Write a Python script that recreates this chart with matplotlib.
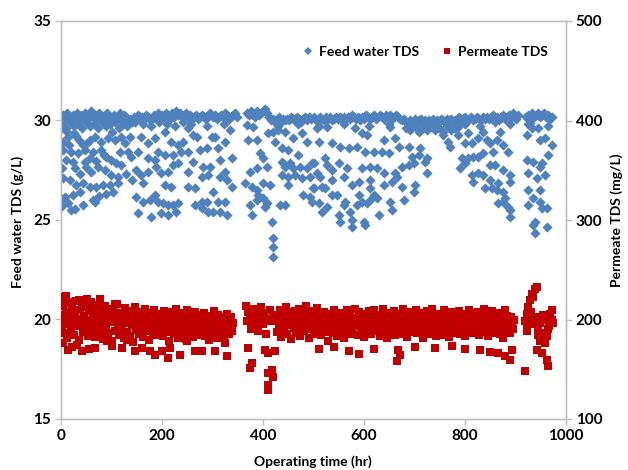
import matplotlib
matplotlib.use('Agg')
import matplotlib.pyplot as plt
from matplotlib.lines import Line2D
import numpy as np

# ---------------- data ----------------
# Feed water TDS (g/L): dense upper band (operating time in hr)
feed_band_t = [0,4,8,12,16,20,24,28,32,36,40,44,48,52,56,60,64,68,72,76,
               80,84,88,92,96,100,104,108,112,116,120,124,128,132,136,140,144,148,152,156,
               160,164,168,172,176,180,184,188,192,196,200,204,208,212,216,220,224,228,232,236,
               240,244,248,252,256,260,264,268,272,276,280,284,288,292,296,300,304,308,312,316,
               320,324,328,332,336,340,344,348,
               368,372,376,380,384,388,392,396,400,404,408,412,416,420,424,428,432,436,440,444,
               448,452,456,460,464,468,472,476,480,484,488,492,496,500,504,508,512,516,520,524,
               528,532,536,540,544,548,552,556,560,564,568,572,576,580,584,588,592,596,600,604,
               608,612,616,620,624,628,632,636,640,644,648,652,656,660,664,668,672,676,680,684,
               688,692,696,700,704,708,712,716,720,724,728,732,736,740,744,748,752,756,760,764,
               768,772,776,780,784,788,792,796,800,804,808,812,816,820,824,828,832,836,840,844,
               848,852,856,860,864,868,872,876,880,884,888,892,896,900,904,
               920,924,928,932,936,940,944,948,952,956,960,964,968,972]
feed_band_v = [30.2,30.3,30.1,30.4,30.2,30.0,30.3,30.2,30.4,30.1,
               30.3,30.2,30.4,30.0,30.3,30.5,30.2,30.3,30.1,30.4,
               30.2,30.0,30.3,30.4,30.1,30.2,30.3,30.0,30.2,30.4,
               30.1,30.3,30.2,30.0,30.1,29.9,30.2,30.1,30.3,30.0,
               30.2,30.1,30.3,30.2,30.0,30.1,30.3,30.2,30.4,30.1,
               30.3,30.2,30.4,30.3,30.1,30.4,30.2,30.5,30.3,30.4,
               30.2,30.3,30.4,30.2,30.3,30.1,30.2,30.3,30.1,30.2,
               30.3,30.2,30.1,30.3,30.4,30.2,30.3,30.1,30.2,30.3,
               30.2,30.4,30.3,30.1,30.2,30.3,30.4,30.2,
               30.4,30.3,30.5,30.4,30.2,30.5,30.3,30.4,30.5,30.6,
               30.4,30.2,30.0,30.1,29.9,30.0,30.2,29.9,30.1,30.0,
               30.1,30.0,30.2,30.1,30.0,30.2,30.1,29.9,30.1,30.2,
               30.0,30.2,30.1,30.2,30.0,30.1,30.2,30.1,30.0,30.2,
               30.1,30.2,30.0,30.1,30.2,30.1,30.2,30.0,30.2,30.1,
               30.2,30.1,30.3,30.2,30.1,30.2,30.0,30.2,30.1,30.3,
               30.2,30.1,30.2,30.3,30.1,30.2,30.3,30.2,30.1,30.3,
               30.2,30.3,30.1,30.2,30.3,30.2,30.1,30.0,30.1,29.9,
               29.8,30.0,29.9,30.1,29.8,30.0,30.1,29.9,30.0,29.8,
               30.0,29.9,30.1,29.8,30.0,29.9,30.1,30.0,29.9,30.1,
               30.0,30.1,29.9,30.0,30.1,30.2,30.0,30.1,30.2,30.0,
               30.1,30.2,30.0,30.1,30.2,30.1,30.0,30.2,30.1,30.2,
               30.1,30.2,30.3,30.1,30.2,30.0,30.2,30.3,30.1,30.2,
               30.3,30.2,30.4,30.1,30.3,
               30.2,30.3,30.1,30.4,30.2,30.3,30.4,30.2,30.3,30.4,30.2,30.3,30.1,30.2]

# Feed water TDS: thinner band just below the main band
feed_sub_t = [2,10,18,26,34,42,50,58,66,74,82,90,98,106,114,122,130,146,162,178,
              194,210,226,242,258,290,322,
              430,470,510,560,610,650,
              684,692,700,708,716,724,732,740,748,756,764,772,780,788,
              800,830,860,890,924,944,964]
feed_sub_v = [29.8,29.6,29.9,29.7,29.8,29.6,29.9,29.7,29.8,29.6,29.9,29.7,29.8,29.9,29.6,29.8,29.7,29.9,29.8,29.7,
              29.9,29.8,29.7,29.9,29.8,29.7,29.8,
              29.7,29.8,29.7,29.8,29.7,29.8,
              29.6,29.5,29.7,29.4,29.6,29.5,29.7,29.5,29.6,29.4,29.7,29.5,29.6,29.7,
              29.8,29.7,29.9,29.8,29.8,29.6,29.7]

# Feed water TDS: scattered lower readings (hr, g/L)
feed_low = [(7,29.61),(14,29.19),(4,28.52),(20.5,28.43),(10.6,28.02),(23.8,27.93),(33.7,28.35),(43.6,28.77),
            (56.8,29.02),(66.7,29.19),(79.9,28.94),(93.1,29.10),(106.3,29.02),(119.5,29.19),(126.1,28.85),
            (132.7,28.43),(139.3,28.18),(79.9,28.52),(89.8,28.18),(99.7,28.02),(109.6,27.85),(119.5,27.77),
            (56.8,28.10),(50.2,27.68),(60.1,27.43),(73.3,27.68),(86.5,27.51),(99.7,27.26),(112.9,27.18),
            (4,27.09),(17.2,27.01),(30.4,26.76),(43.6,26.84),(56.8,26.68),(70,26.68),(83.2,26.76),(96.4,26.76),
            (112.9,26.84),(7.3,26.17),(13.9,25.84),(20.5,25.50),(37,26.43),(43.6,25.76),(66.7,25.92),(23.8,26.26),
            (149.2,27.51),(159.1,27.26),(172.3,27.43),(188.8,27.68),(198.7,27.35),(211.9,27.43),(221.8,27.77),
            (231.7,27.85),(162.4,26.84),(205.3,26.76),(218.5,26.68),(149.2,26.17),(162.4,25.92),(175.6,26.01),
            (185.5,26.26),(192.1,25.92),(202,25.84),(211.9,25.76),(221.8,25.76),(231.7,25.84),(152.5,25.34),
            (178.9,25.17),(198.7,25.34),(211.9,25.25),(228.4,25.42),(159.1,29.19),(172.3,28.85),(185.5,29.10),
            (205.3,29.44),(218.5,28.94),(231.7,28.77),(192.1,28.43),(205.3,28.27),(221.8,28.27),(238.3,28.43),
            (241.6,28.94),(136,29.19),(152.5,28.43),(172.3,28.10),(185.5,28.02),
            (10,29.45),(25,29.35),(35,29.0),(47,28.5),(52,28.85),(16,28.75),(28,27.6),(38,27.3),(48,27.9),
            (63,28.4),(70,27.95),(85,28.25),(90,26.3),(64,26.0),(1,26.05),(2,25.7),(27,25.55),(75,26.2),
            (103,26.4),(116,28.4),(128,27.3),(141,27.0),(30,29.2),(100,29.4),(2,27.6),(3,28.9),
            (252.1,29.61),(262,29.27),(268.6,29.19),(298.3,29.19),(304.9,29.19),(324.7,28.94),(334.6,29.52),
            (252.1,28.43),(275.2,28.52),(288.4,28.60),(311.5,28.60),(337.9,28.10),(262,27.93),(281.8,27.68),
            (295,27.68),(314.8,28.02),(252.1,27.43),(278.5,27.18),(291.7,27.26),(314.8,27.18),(324.7,27.43),
            (328,27.01),(337.9,26.68),(252.1,26.68),(265.3,26.59),(301.6,26.39),(265.3,25.76),(278.5,25.59),
            (288.4,25.92),(291.7,25.42),(301.6,25.42),(311.5,25.92),(314.8,25.42),(324.7,25.92),(328,25.25),
            (278.5,25.92),(367.6,29.77),(380.8,29.69),(370.9,29.02),(387.4,29.02),(394,28.35),(400.6,28.10),
            (407.2,27.68),(387.4,27.60),(374.2,27.43),(364.3,26.84),(377.5,26.68),(387.4,26.51),(400.6,26.84),
            (413.8,26.76),(390.7,26.26),(400.6,26.09),(407.2,25.84),(403.9,25.67),(374.2,25.76),(377.5,25.25),
            (387.4,26.01),(417.1,24.92),(420.4,24.08),(420.4,23.66),(420.4,23.16),(410.5,29.36),(420.4,29.44),
            (430.3,29.52),(443.5,29.44),(423.7,28.94),(436.9,28.60),(450.1,28.52),(460,29.10),(476.5,29.36),
            (486.4,28.94),(469.9,28.27),(436.9,27.93),(443.5,27.68),(453.4,27.85),(460,27.60),(473.2,27.68),
            (486.4,27.60),(496.3,27.85),(436.9,27.26),(450.1,27.18),(463.3,27.26),(476.5,27.09),(493,27.18),
            (450.1,26.76),(479.8,26.26),(493,26.17),(499.6,26.59),(433.6,25.76),(443.5,25.76),
            (506.9,29.61),(510.2,28.94),(526.7,29.69),(536.6,28.85),(553.1,28.69),(569.6,28.60),(582.8,29.61),
            (596,29.36),(605.9,29.27),(586.1,28.69),(602.6,28.43),(619.1,28.43),(635.6,28.43),(648.8,28.35),
            (638.9,29.02),(652.1,29.69),(662,29.10),(668.6,28.69),(688.4,28.69),(711.5,28.60),(724.7,28.10),
            (695,28.18),(708.2,28.27),(675.2,27.68),(688.4,27.77),(698.3,27.85),(721.4,27.93),(724.7,27.35),
            (662,27.35),(665.3,27.18),(523.4,28.10),(500.3,27.85),(526.7,27.77),(549.8,27.85),(566.3,27.60),
            (596,27.60),(612.5,27.68),(625.7,27.60),(638.9,27.35),(506.9,27.35),(513.5,27.18),(536.6,27.51),
            (559.7,27.18),(536.6,27.01),(576.2,26.76),(589.4,26.93),(612.5,27.01),(612.5,26.59),(638.9,26.76),
            (655.4,26.93),(675.2,26.68),(701.6,26.76),(698.3,26.43),(678.5,26.01),(500.3,26.59),(516.8,26.68),
            (523.4,26.59),(536.6,26.26),(546.5,26.26),(563,25.92),(589.4,26.26),(596,25.92),(605.9,25.84),
            (619.1,26.26),(625.7,26.09),(652.1,25.92),(655.4,25.50),(497,25.92),(510.2,25.84),(516.8,25.42),
            (526.7,25.67),(549.8,25.25),(553.1,24.92),(559.7,25.76),(572.9,25.42),(576.2,25.00),(576.2,24.67),
            (586.1,25.76),(599.3,24.92),(602.6,24.75),(629,25.25),(615.8,26.09),
            (757,29.27),(766.9,28.94),(770.2,28.69),(786.7,29.27),(799.9,28.85),(813.1,28.85),(806.5,29.36),
            (836.2,29.44),(826.3,29.10),(842.8,29.02),(849.4,28.85),(862.6,29.02),(869.2,29.44),(875.8,28.77),
            (885.7,28.43),(856,28.43),(836.2,28.35),(826.3,28.18),(816.4,28.18),(806.5,28.10),(793.3,28.10),
            (790,27.60),(799.9,27.85),(849.4,27.77),(859.3,27.77),(875.8,27.51),(813.1,27.26),(826.3,27.35),
            (836.2,27.26),(816.4,26.93),(849.4,27.01),(865.9,26.84),(889,27.26),(889,26.93),(839.5,26.59),
            (852.7,26.59),(862.6,26.51),(875.8,26.43),(879.1,26.09),(875.8,25.92),(865.9,25.84),(885.7,25.67),
            (889,25.50),(889,25.17),(922,29.27),(928.6,29.86),(931.9,29.61),(948.4,29.02),(958.3,29.10),
            (971.5,28.77),(964.9,28.27),(922,28.02),(935.2,27.93),(948.4,27.68),(951.7,27.85),(925.3,27.35),
            (941.8,27.09),(958.3,27.26),(925.3,26.51),(948.4,26.51),(935.2,26.09),(948.4,25.92),(925.3,25.76),
            (951.7,25.59),(961.6,25.59),(938.5,24.92),(935.2,24.75),(961.6,24.67),(938.5,24.33)]

# Permeate TDS (mg/L): main band, first run (0-340 hr)
perm_band1_t = [0,2,4,6,8,10,12,14,16,18,20,22,24,26,28,30,32,34,36,38,
                40,42,44,46,48,50,52,54,56,58,60,62,64,66,68,70,72,74,76,78,
                80,82,84,86,88,90,92,94,96,98,100,102,104,106,108,110,112,114,116,118,
                120,122,124,126,128,130,132,134,136,138,140,142,144,146,148,150,152,154,156,158,
                160,162,164,166,168,170,172,174,176,178,180,182,184,186,188,190,192,194,196,198,
                200,202,204,206,208,210,212,214,216,218,220,222,224,226,228,230,232,234,236,238,
                240,242,244,246,248,250,252,254,256,258,260,262,264,266,268,270,272,274,276,278,
                280,282,284,286,288,290,292,294,296,298,300,302,304,306,308,310,312,314,316,318,
                320,322,324,326,328,330,332,334,336,338,340]
perm_band1_v = [205,192,214,186,199,208,181,217,195,203,188,211,198,184,207,219,193,201,179,210,
                196,213,187,204,191,216,200,183,209,194,218,189,206,197,182,212,202,190,215,185,
                208,195,180,203,214,192,199,186,211,205,178,197,209,188,201,216,193,184,207,198,
                190,204,181,212,196,187,209,200,183,206,194,177,202,213,189,197,208,185,199,192,
                205,182,198,211,188,195,203,179,207,191,200,186,210,196,184,204,193,201,188,206,
                197,183,209,192,200,187,205,178,196,208,190,203,185,199,211,194,181,202,189,207,
                195,186,204,198,180,210,191,201,187,206,193,182,199,208,188,203,196,184,205,192,
                200,189,207,183,197,204,190,179,202,195,186,209,193,199,181,205,191,198,187,203,
                194,182,201,189,206,192,185,199,203,188,196]

# Permeate TDS: main band, second run (426-898 hr)
perm_band2_t = [426,428,430,432,434,436,438,440,442,444,446,448,450,452,454,456,458,460,462,464,
                466,468,470,472,474,476,478,480,482,484,486,488,490,492,494,496,498,500,502,504,
                506,508,510,512,514,516,518,520,522,524,526,528,530,532,534,536,538,540,542,544,
                546,548,550,552,554,556,558,560,562,564,566,568,570,572,574,576,578,580,582,584,
                586,588,590,592,594,596,598,600,602,604,606,608,610,612,614,616,618,620,622,624,
                626,628,630,632,634,636,638,640,642,644,646,648,650,652,654,656,658,660,662,664,
                666,668,670,672,674,676,678,680,682,684,686,688,690,692,694,696,698,700,702,704,
                706,708,710,712,714,716,718,720,722,724,726,728,730,732,734,736,738,740,742,744,
                746,748,750,752,754,756,758,760,762,764,766,768,770,772,774,776,778,780,782,784,
                786,788,790,792,794,796,798,800,802,804,806,808,810,812,814,816,818,820,822,824,
                826,828,830,832,834,836,838,840,842,844,846,848,850,852,854,856,858,860,862,864,
                866,868,870,872,874,876,878,880,882,884,886,888,890,892,894,896,898]
perm_band2_v = [198,187,205,193,210,182,199,206,189,196,213,185,201,194,208,180,197,204,191,209,
                186,200,195,211,183,203,192,207,188,198,214,190,202,181,196,209,193,185,205,199,
                212,189,197,204,184,201,193,208,187,200,195,178,206,191,203,197,186,210,194,199,
                183,205,192,201,188,207,196,181,203,194,210,187,199,206,190,185,202,197,211,193,
                200,184,208,195,189,203,198,182,206,192,200,187,209,194,185,201,196,210,190,204,
                188,197,205,183,200,193,211,189,196,204,181,199,207,192,186,203,195,209,184,201,
                197,190,206,185,202,195,211,188,199,205,182,196,208,191,203,187,200,194,210,186,
                204,193,199,188,207,181,197,202,190,209,195,185,203,198,211,189,196,205,183,200,
                192,206,187,199,203,184,210,194,198,189,205,182,201,196,208,190,193,204,186,200,
                197,209,185,202,191,206,198,183,204,195,188,210,193,200,186,207,196,189,203,192,
                208,184,199,205,190,197,211,187,201,194,183,206,198,192,209,186,200,195,188,204,
                193,207,185,199,202,181,196,210,189,204,192,198,186,203,195,190,200]

# Permeate TDS: readings outside the main band (hr, mg/L)
perm_other = [(4.6,176),(14.5,169),(40.9,168),(67.3,171),(31,174),(90.4,178),(130,179),(146.5,168),
              (159.7,171),(176.2,168),(186.1,164),(199.3,168),(212.5,161),(235.6,164),(215.8,171),
              (265.3,168),(278.5,168),(304.9,168),(328,163),(324.7,176),(248.8,178),(120,171),(100,173),
              (55,170),(22,172),
              (1,223),(0.5,219),(50.8,221),(77.2,221),(106.9,216),(20,218),(35,220),(60,217),(9,224),
              (366,214),(370,208),(374,202),(380,211),(386,205),(392,199),(396,213),(402,207),(408,201),
              (414,210),(420,204),(368,198),(384,196),(400,195),(416,198),(376,190),(390,188),(406,185),
              (370.9,171),(377.5,156),(374.2,151),(403.9,169),(410.5,166),(423.7,168),(417.1,149),
              (410.5,146),(420.4,142),(410.5,134),(410.5,129),
              (667.9,169),(671.2,164),(664.6,158),(773.5,173),(865.9,166),(889,159),(892.3,169),
              (570,168),(590,165),(510,170),(540,172),(620,170),(700,172),(740,171),(800,170),(830,169),
              (850,167),(880,163),(918.7,148),
              (922,196),(925.3,213),(928.6,220),(931.9,226),(935.2,223),(938.5,231),(941.8,233),
              (918.7,198),(922,206),(938.5,203),(948.4,196),(958.3,200),(968.2,206),(971.5,200),
              (951.7,186),(961.6,183),(964.9,190),(948.4,178),(941.8,169),(951.7,166),(961.6,159),
              (964.9,153),(922,188),(935.2,195),(926,200),(930,208),(945,190),(955,205),(966,193),
              (972,210),(975,196),(958,176),(944,184)]

x_ticks = [0, 200, 400, 600, 800, 1000]
left_ticks = [15, 20, 25, 30, 35]
right_ticks = [100, 200, 300, 400, 500]

# ---------------- plot ----------------
plt.rcParams['font.family'] = ['Lato', 'DejaVu Sans']
plt.rcParams['font.weight'] = 'bold'

BLUE = '#4F81BD'
RED = '#C00000'
GRAY = '#BFBFBF'

feed_t = feed_band_t + feed_sub_t + [p[0] for p in feed_low]
feed_v = feed_band_v + feed_sub_v + [p[1] for p in feed_low]
perm_t = perm_band1_t + perm_band2_t + [p[0] for p in perm_other]
perm_v = perm_band1_v + perm_band2_v + [p[1] for p in perm_other]

fig = plt.figure(figsize=(6.28, 4.70), dpi=100)
ax = fig.add_axes([61/628, 51/470, 505/628, 398/470])
ax2 = ax.twinx()

ax.scatter(feed_t, feed_v, marker='D', s=27, color=BLUE, linewidths=0, zorder=3)
ax2.scatter(perm_t, perm_v, marker='s', s=28, color=RED, linewidths=0, zorder=3)

ax.set_xlim(0, 1000)
ax.set_ylim(15, 35)
ax2.set_ylim(100, 500)
ax.set_xticks(x_ticks)
ax.set_yticks(left_ticks)
ax2.set_yticks(right_ticks)

for a in (ax, ax2):
    for sp in a.spines.values():
        sp.set_color(GRAY)
        sp.set_linewidth(1.0)
    a.tick_params(direction='out', length=4, width=1, color=GRAY, labelsize=11, labelcolor='black', pad=3)

fig.text(18/628, 1 - 222/470, 'Feed water TDS (g/L)', rotation=90, ha='center', va='center', fontsize=10)
fig.text(617/628, 1 - 220/470, 'Permeate TDS (mg/L)', rotation=90, ha='center', va='center', fontsize=10)
fig.text(313/628, 1 - 462/470, 'Operating time (hr)', ha='center', va='center', fontsize=10)

handles = [Line2D([], [], marker='D', linestyle='none', color=BLUE, markersize=4, markeredgewidth=0),
           Line2D([], [], marker='s', linestyle='none', color=RED, markersize=4, markeredgewidth=0)]
fig.legend(handles, ['Feed water TDS', 'Permeate TDS'], loc='center', ncol=2,
           bbox_to_anchor=(425/628, 1 - 52/470), frameon=False, fontsize=10,
           handlelength=0.8, handletextpad=0.4, columnspacing=1.6)

fig.savefig('out.png', dpi=100)
